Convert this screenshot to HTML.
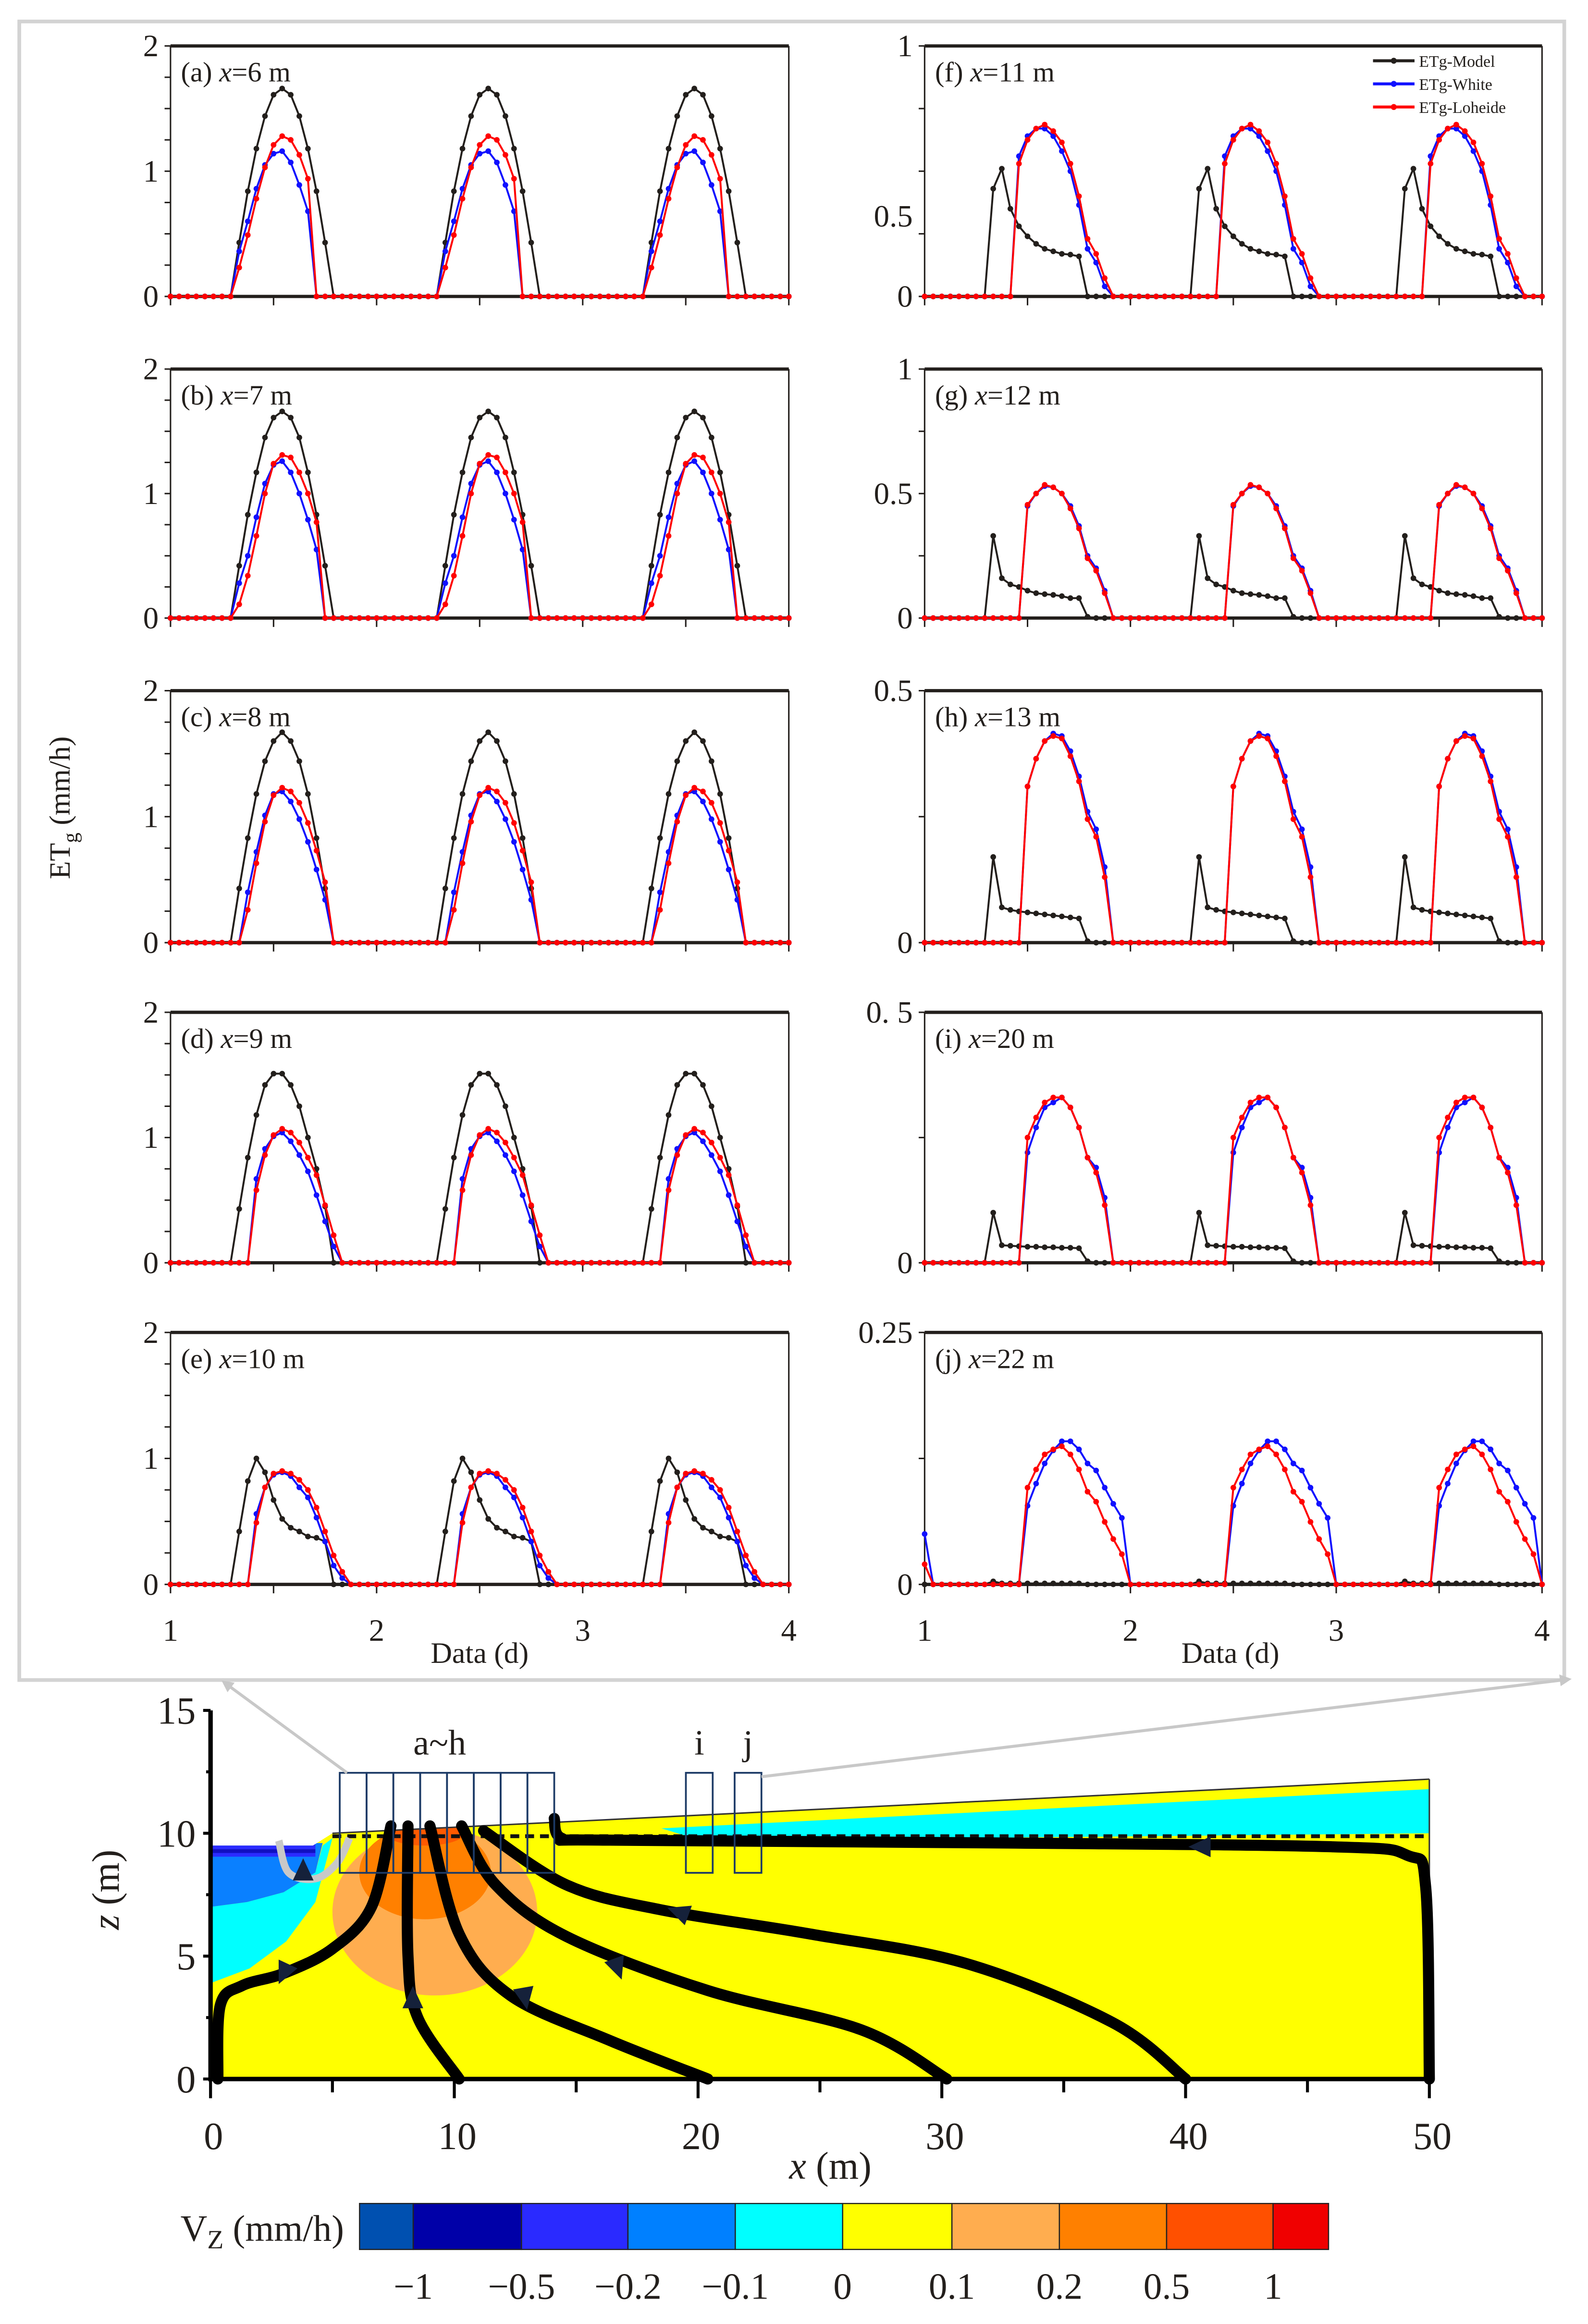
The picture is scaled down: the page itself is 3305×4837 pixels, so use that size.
<!DOCTYPE html>
<html><head><meta charset="utf-8"><style>
html,body{margin:0;padding:0;background:#fff;}
svg{display:block;}
text{font-family:"Liberation Serif",serif;fill:#231f1c;}
</style></head><body>
<svg id="fig" width="3305" height="4837" viewBox="0 0 1071 1568" preserveAspectRatio="none" xmlns="http://www.w3.org/2000/svg">
<rect x="13" y="14.5" width="1042" height="1119" fill="none" stroke="#d3d3d3" stroke-width="2.5"/>
<g id="charts"></g>
<g id="section"></g>
</svg>
<script>
// ---- hourly daily profiles (h0..h23), ETg in mm/h ----
const modelA=[0,0,0,0,0,0,0,0,0.43,0.84,1.18,1.44,1.61,1.66,1.61,1.44,1.18,0.84,0.43,0,0,0,0,0];
const whiteA=[0,0,0,0,0,0,0,0,0.36,0.60,0.86,1.05,1.14,1.16,1.07,0.89,0.68,0,0,0,0,0,0,0];
const loheideA=[0,0,0,0,0,0,0,0,0.23,0.49,0.78,1.03,1.21,1.28,1.25,1.13,0.94,0,0,0,0,0,0,0];
const modelB=[0,0,0,0,0,0,0,0,0.42,0.83,1.17,1.45,1.61,1.66,1.61,1.45,1.17,0.83,0.42,0,0,0,0,0];
const whiteB=[0,0,0,0,0,0,0,0,0.28,0.50,0.81,1.08,1.23,1.26,1.17,1.00,0.79,0.55,0,0,0,0,0,0];
const loheideB=[0,0,0,0,0,0,0,0,0.11,0.34,0.66,1.00,1.24,1.31,1.29,1.17,1.00,0.77,0,0,0,0,0,0];
const modelC=[0,0,0,0,0,0,0,0,0.43,0.83,1.18,1.44,1.60,1.67,1.60,1.44,1.18,0.83,0.43,0,0,0,0,0];
const whiteC=[0,0,0,0,0,0,0,0,0,0.40,0.72,1.01,1.18,1.20,1.12,0.98,0.80,0.58,0.34,0,0,0,0,0];
const loheideC=[0,0,0,0,0,0,0,0,0,0.26,0.63,0.96,1.17,1.23,1.20,1.11,0.95,0.73,0.48,0,0,0,0,0];
const modelD=[0,0,0,0,0,0,0,0,0.43,0.84,1.18,1.42,1.51,1.51,1.42,1.25,1.00,0.75,0.45,0,0,0,0,0];
const whiteD=[0,0,0,0,0,0,0,0,0,0,0.67,0.91,1.01,1.04,0.97,0.86,0.73,0.54,0.33,0.13,0,0,0,0];
const loheideD=[0,0,0,0,0,0,0,0,0,0,0.58,0.86,1.02,1.07,1.04,0.96,0.84,0.70,0.46,0.22,0,0,0,0];
const modelE=[0,0,0,0,0,0,0,0,0.42,0.82,1.00,0.89,0.67,0.52,0.45,0.42,0.38,0.37,0.34,0,0,0,0,0];
const whiteE=[0,0,0,0,0,0,0,0,0,0,0.56,0.77,0.87,0.89,0.86,0.77,0.69,0.53,0.34,0.15,0.05,0,0,0];
const loheideE=[0,0,0,0,0,0,0,0,0,0,0.49,0.77,0.88,0.90,0.88,0.83,0.75,0.61,0.42,0.23,0.10,0,0,0];
const modelF=[0,0,0,0,0,0,0,0,0.43,0.51,0.35,0.28,0.24,0.21,0.19,0.18,0.17,0.167,0.16,0,0,0,0,0];
const whiteF=[0,0,0,0,0,0,0,0,0,0,0,0.56,0.64,0.67,0.67,0.64,0.58,0.50,0.365,0.19,0.135,0.04,0,0];
const loheideF=[0,0,0,0,0,0,0,0,0,0,0,0.53,0.625,0.67,0.686,0.66,0.615,0.53,0.40,0.23,0.17,0.073,0,0];
const modelG=[0,0,0,0,0,0,0,0,0.33,0.16,0.135,0.125,0.11,0.10,0.096,0.093,0.088,0.08,0.08,0.005,0,0,0,0];
const whiteG=[0,0,0,0,0,0,0,0,0,0,0,0,0.45,0.50,0.53,0.525,0.50,0.45,0.37,0.25,0.20,0.11,0,0];
const loheideG=[0,0,0,0,0,0,0,0,0,0,0,0,0.455,0.50,0.535,0.525,0.50,0.44,0.36,0.24,0.19,0.10,0,0];
const modelH=[0,0,0,0,0,0,0,0,0.17,0.07,0.065,0.062,0.06,0.058,0.056,0.054,0.052,0.05,0.048,0.003,0,0,0,0];
const whiteH=[0,0,0,0,0,0,0,0,0,0,0,0,0.31,0.365,0.40,0.415,0.41,0.38,0.33,0.26,0.225,0.15,0,0];
const loheideH=[0,0,0,0,0,0,0,0,0,0,0,0,0.31,0.365,0.40,0.41,0.405,0.37,0.32,0.245,0.21,0.13,0,0];
const modelI=[0,0,0,0,0,0,0,0,0.10,0.035,0.034,0.033,0.032,0.032,0.031,0.031,0.030,0.030,0.029,0.003,0,0,0,0];
const whiteI=[0,0,0,0,0,0,0,0,0,0,0,0,0.22,0.27,0.31,0.32,0.33,0.31,0.27,0.21,0.19,0.13,0,0];
const loheideI=[0,0,0,0,0,0,0,0,0,0,0,0,0.25,0.29,0.32,0.33,0.33,0.31,0.27,0.21,0.18,0.115,0,0];
const modelJ=[0,0,0,0,0,0,0,0,0.003,0.001,0.001,0.001,0.001,0.001,0.001,0.001,0.001,0.001,0.001,0,0,0,0,0];
const whiteJ=[0,0,0,0,0,0,0,0,0,0,0,0,0.078,0.10,0.12,0.133,0.142,0.142,0.134,0.12,0.113,0.096,0.08,0.066];
const loheideJ=[0,0,0,0,0,0,0,0,0,0,0,0,0.096,0.114,0.129,0.134,0.137,0.129,0.114,0.092,0.082,0.062,0.045,0.030];
const startWhiteJ=0.05;
const startLoheideJ=0.02;
const panelLabels=["(a)","(b)","(c)","(d)","(e)","(f)","(g)","(h)","(i)","(j)"];
const panelX=["6","7","8","9","10","11","12","13","20","22"];
const yMaxes=[2,2,2,2,2,1,1,0.5,0.5,0.25];
const yTickLabelsLeft=["0","1","2"];
const xTickLabels=["1","2","3","4"];

const NS="http://www.w3.org/2000/svg";
function mk(tag,attrs,parent){const e=document.createElementNS(NS,tag);for(const k in attrs)e.setAttribute(k,attrs[k]);parent.appendChild(e);return e;}
const charts=document.getElementById('charts');
const rows=[[31,200],[249,417],[466,636],[683,852],[899,1069]];
const cols=[[115,532],[623.6,1040]];
const models=[modelA,modelB,modelC,modelD,modelE,modelF,modelG,modelH,modelI,modelJ];
const whites=[whiteA,whiteB,whiteC,whiteD,whiteE,whiteF,whiteG,whiteH,whiteI,whiteJ];
const lohs=[loheideA,loheideB,loheideC,loheideD,loheideE,loheideF,loheideG,loheideH,loheideI,loheideJ];
const yLabelSets=[yTickLabelsLeft,yTickLabelsLeft,yTickLabelsLeft,yTickLabelsLeft,yTickLabelsLeft,["0","0.5","1"],["0","0.5","1"],["0","0.5"],["0","0. 5"],["0","0.25"]];
const yLabelVals=[[0,1,2],[0,1,2],[0,1,2],[0,1,2],[0,1,2],[0,0.32,1],[0,0.5,1],[0,0.5],[0,0.5],[0,0.25]];
const minorSteps=[0.25,0.25,0.25,0.25,0.25,0.25,0.25,0.25,0.25,0.125];

function series(p,start){const out=[];for(let i=0;i<=72;i++){out.push(i===0&&start!=null?start:p[i%24]);}return out;}

for(let k=0;k<10;k++){
  const c=cols[k<5?0:1], r=rows[k%5];
  const g=mk('g',{},charts);
  
  
  const X=t=>c[0]+(t-1)/3*(c[1]-c[0]);
  const Y=v=>r[1]-v/yMaxes[k]*(r[1]-r[0]);
  const fr=mk('g',{},g);
  
  
  mk('line',{x1:c[0],y1:r[0],x2:c[1],y2:r[0],stroke:'#231f1c','stroke-width':2.2},fr);
  mk('line',{x1:c[0],y1:r[1],x2:c[1],y2:r[1],stroke:'#231f1c','stroke-width':2.2},fr);
  mk('line',{x1:c[0],y1:r[0],x2:c[0],y2:r[1],stroke:'#231f1c','stroke-width':1},fr);
  mk('line',{x1:c[1],y1:r[0],x2:c[1],y2:r[1],stroke:'#231f1c','stroke-width':1},fr);
  for(let v=0;v<=yMaxes[k]+1e-9;v+=minorSteps[k]){
    const t=mk('line',{x1:c[0]-4,y1:Y(v),x2:c[0],y2:Y(v),stroke:'#231f1c','stroke-width':1},g);
    
    
  }
  yLabelSets[k].forEach((s,i)=>{
    const t=mk('text',{x:c[0]-8,y:Y(yLabelVals[k][i])+7,'text-anchor':'end','font-size':21},g);
    t.textContent=s;
    
    
  });
  for(let t=1;t<=4.001;t+=0.5){
    const tk=mk('line',{x1:X(t),y1:r[1],x2:X(t),y2:r[1]+6,stroke:'#231f1c','stroke-width':1},g);
    
    
  }
  if(k%5===4){
    xTickLabels.forEach((s,i)=>{
      const t=mk('text',{x:X(i+1),y:r[1]+38,'text-anchor':'middle','font-size':21},g);
      t.textContent=s;
      
      
    });
    const xt=mk('text',{x:(c[0]+c[1])/2-(k<5?0:2),y:r[1]+53,'text-anchor':'middle','font-size':20},g);
    xt.textContent='Data (d)';
    
    
  }
  const pl=mk('text',{x:c[0]+7,y:r[0]+24,'font-size':19},g);
  pl.innerHTML=panelLabels[k]+' <tspan font-style="italic">x</tspan>='+panelX[k]+' m';
  
  
  const sets=[[models[k],null,'#231f1c','model'],[whites[k],k===9?startWhiteJ:null,'#1010ff','white'],[lohs[k],k===9?startLoheideJ:null,'#ff0000','loheide']];
  sets.forEach(([p,st,col,nm])=>{
    const vals=series(p,st);
    const sg=mk('g',{},g);
    
    
    let d='';
    vals.forEach((v,i)=>{d+=(i?'L':'M')+X(1+i/24).toFixed(2)+' '+Y(v).toFixed(2);});
    const ln=mk('path',{d:d,fill:'none',stroke:col,'stroke-width':1.3,'stroke-linejoin':'round'},sg);
    
    
    vals.forEach((v,i)=>{
      const m=mk('circle',{cx:X(1+i/24),cy:Y(v),r:1.9,fill:col},sg);
      
      
    });
  });
}
const yt=mk('text',{x:0,y:0,'text-anchor':'middle','font-size':20,transform:'translate(47,545) rotate(-90)'},charts);
yt.innerHTML='ET<tspan font-size="14" dy="5">g</tspan><tspan dy="-5"> (mm/h)</tspan>';


const legItems=[['ETg-Model','#231f1c'],['ETg-White','#1010ff'],['ETg-Loheide','#ff0000']];
const lg=mk('g',{},charts);


legItems.forEach(([s,col],i)=>{
  const y=41+i*15.6;
  const e=mk('g',{},lg);
  
  
  mk('line',{x1:926,y1:y,x2:954,y2:y,stroke:col,'stroke-width':2},e);
  mk('circle',{cx:940,cy:y,r:2,fill:col},e);
  const t=mk('text',{x:957,y:y+4,'font-size':11},e);
  t.textContent=s;
});

// ---------------- cross section ----------------
const sec=document.getElementById('section');
const MX=x=>142+x*16.44, MZ=z=>1402.7-z*16.58;
const P=pts=>pts.map(([x,z])=>MX(x).toFixed(1)+','+MZ(z).toFixed(1)).join(' ');
function smooth(pts){let d='M'+MX(pts[0][0])+' '+MZ(pts[0][1]);
  for(let i=0;i<pts.length-1;i++){const p0=pts[Math.max(0,i-1)],p1=pts[i],p2=pts[i+1],p3=pts[Math.min(pts.length-1,i+2)];
    const c1=[MX(p1[0])+(MX(p2[0])-MX(p0[0]))/6,MZ(p1[1])+(MZ(p2[1])-MZ(p0[1]))/6];
    const c2=[MX(p2[0])-(MX(p3[0])-MX(p1[0]))/6,MZ(p2[1])-(MZ(p3[1])-MZ(p1[1]))/6];
    d+=' C'+c1.join(' ')+' '+c2.join(' ')+' '+MX(p2[0])+' '+MZ(p2[1]);}
  return d;}
const domainPts=[[0,9.5],[4.2,9.5],[5,10],[50,12.2],[50,0],[0,0]];
const defs=mk('defs',{},sec);
const cp=mk('clipPath',{id:'dom'},defs);
mk('polygon',{points:P(domainPts)},cp);
const fld=mk('g',{'clip-path':'url(#dom)'},sec);


mk('polygon',{points:P(domainPts),fill:'#ffff00'},fld);
mk('polygon',{points:P([[0,7.0],[1.5,7.2],[3,7.6],[4.3,8.4],[4.6,9.5],[5,9.8],[4.3,7.2],[3.1,5.6],[1.6,4.5],[0,3.9]]),fill:'#00ffff'},fld);
mk('polygon',{points:P([[0,9.6],[4.6,9.6],[4.3,8.4],[3,7.6],[1.5,7.2],[0,7.0]]),fill:'#0a80ff'},fld);
mk('polygon',{points:P([[0,9.6],[4.3,9.6],[4.3,9.05],[0,9.05]]),fill:'#2b2bff'},fld);
mk('polygon',{points:P([[0,9.35],[4.3,9.35],[4.3,9.2],[0,9.2]]),fill:'#1010c0'},fld);
mk('polygon',{points:P([[18.5,10.2],[50,11.8],[50,10.0],[40,9.9],[25,9.75],[22,9.6],[19.5,9.9]]),fill:'#00ffff'},fld);
mk('ellipse',{cx:MX(9.2),cy:MZ(6.8),rx:4.2*16.44,ry:3.4*16.58,fill:'#ffad4f'},fld);
mk('ellipse',{cx:MX(8.8),cy:MZ(8.4),rx:2.7*16.44,ry:1.9*16.58,fill:'#ff8000'},fld);
mk('ellipse',{cx:MX(8.8),cy:MZ(10),rx:1.6*16.44,ry:0.5*16.58,fill:'#ff5a00'},fld);
mk('polyline',{points:P([[5,10],[50,12.2]]),fill:'none',stroke:'#333','stroke-width':1},sec);
mk('line',{x1:MX(50),y1:MZ(12.2),x2:MX(50),y2:MZ(0),stroke:'#333','stroke-width':1},sec);
const wt=mk('line',{x1:MX(5),y1:MZ(9.88),x2:MX(50),y2:MZ(9.88),stroke:'#111','stroke-width':2.6,'stroke-dasharray':'6 4'},sec);


const gp=mk('path',{d:smooth([[2.8,9.7],[3.2,8.4],[4.3,8.15],[5.2,8.8],[5.7,9.8]]),fill:'none',stroke:'#c8c8c8','stroke-width':5},sec);


const streams=[
 [[0.3,0],[0.4,3.0],[1.3,3.8],[3,4.3],[5,5.3],[6.6,7.0],[7.4,10.3]],
 [[10.2,0],[8.5,2.5],[8.1,5],[8.1,10.3]],
 [[20.4,0],[16.3,1.6],[12.3,3.4],[10.2,5.9],[9.0,10.3]],
 [[30.2,0],[26.7,2],[20.4,3.6],[14.6,5.8],[11.7,7.9],[10.3,10.3]],
 [[40,0],[37,2.3],[31,4.7],[24.6,5.9],[18.4,6.9],[14.6,7.9],[11.2,10.1]],
 [[50,0],[49.85,7.8],[49.1,9.1],[46,9.45],[33,9.6],[16.3,9.72],[14.4,9.8],[14.1,10.6]]
];
streams.forEach(s=>{
  const p=mk('path',{d:smooth(s),fill:'none',stroke:'#000','stroke-width':7.5,'stroke-linecap':'round'},sec);
  
  
});
const arrows=[[3.8,8.5,-90],[3,4.3,115],[8.3,3.3,-90],[12.9,3.3,80],[16.7,4.5,70],[19.2,6.8,200],[40.6,9.45,180]];
arrows.forEach(([x,z,a])=>{
  const t=mk('polygon',{points:'8,0 -7,-7 -7,7',fill:'#15213a',transform:'translate('+MX(x)+','+MZ(z)+') rotate('+a+')'},sec);
  
  
});
const boxEdges=[5.3,6.4,7.5,8.6,9.7,10.8,11.9,13.0,14.1];
for(let i=0;i<8;i++){
  const b=mk('rect',{x:MX(boxEdges[i]),y:MZ(12.46),width:MX(boxEdges[i+1])-MX(boxEdges[i]),height:MZ(8.39)-MZ(12.46),fill:'none',stroke:'#1c3a66','stroke-width':1.2},sec);
  
  
}
[[19.5,20.6,'i'],[21.5,22.6,'j']].forEach(([a,b,n])=>{
  const r=mk('rect',{x:MX(a),y:MZ(12.46),width:MX(b)-MX(a),height:MZ(8.39)-MZ(12.46),fill:'none',stroke:'#1c3a66','stroke-width':1.2},sec);
  
  
  const t=mk('text',{x:MX((a+b)/2),y:MZ(13.2),'text-anchor':'middle','font-size':24},sec);
  t.textContent=n;
  
  
});
const ah=mk('text',{x:MX(9.4),y:MZ(13.2),'text-anchor':'middle','font-size':24},sec);
ah.textContent='a~h';


mk('defs',{},sec).innerHTML='<marker id="gah" markerWidth="8" markerHeight="8" refX="6" refY="4" orient="auto" markerUnits="userSpaceOnUse"><path d="M0,0 L8,4 L0,8 z" fill="#c8c8c8"/></marker>';
const ga1=mk('line',{x1:MX(5.6),y1:MZ(12.46),x2:151,y2:1135,stroke:'#c8c8c8','stroke-width':2,'marker-end':'url(#gah)'},sec);


const ga2=mk('line',{x1:MX(22.6),y1:MZ(12.3),x2:1058,y2:1133,stroke:'#c8c8c8','stroke-width':2,'marker-end':'url(#gah)'},sec);


const ax=mk('g',{},sec);


mk('line',{x1:MX(0),y1:MZ(15),x2:MX(0),y2:MZ(0)+1.5,stroke:'#000','stroke-width':3},ax);
mk('line',{x1:MX(0)-1.5,y1:MZ(0),x2:MX(50)+1.5,y2:MZ(0),stroke:'#000','stroke-width':3},ax);
for(let z=0;z<=15;z+=2.5){mk('line',{x1:MX(0)-(z%5===0?5:3),y1:MZ(z),x2:MX(0),y2:MZ(z),stroke:'#000','stroke-width':2},ax);}
for(let z=0;z<=15;z+=5){const t=mk('text',{x:MX(0)-10,y:MZ(z)+9,'text-anchor':'end','font-size':26},ax);t.textContent=String(z);
  
  }
for(let x=0;x<=50;x+=5){mk('line',{x1:MX(x),y1:MZ(0),x2:MX(x),y2:MZ(0)+(x%10===0?13:9),stroke:'#000','stroke-width':2},ax);}
for(let x=0;x<=50;x+=10){const t=mk('text',{x:MX(x)+2,y:1450,'text-anchor':'middle','font-size':26},ax);t.textContent=String(x);
  
  }
const xm=mk('text',{x:560,y:1470,'text-anchor':'middle','font-size':26},ax);
xm.innerHTML='<tspan font-style="italic">x</tspan> (m)';


const zm=mk('text',{x:0,y:0,'text-anchor':'middle','font-size':26,transform:'translate(80,1275) rotate(-90)'},ax);
zm.innerHTML='<tspan font-style="italic">z</tspan> (m)';


const cbColors=['#0050b0','#0000a8','#2a2aff','#0080ff','#00ffff','#ffff00','#ffad4f','#ff8000','#ff5000','#f00000'];
const cbEdges=[242.5,278.7,351.7,423.5,495.9,568.3,642,714.5,786.8,858.6,896];
const cbLabels=['\u22121','\u22120.5','\u22120.2','\u22120.1','0','0.1','0.2','0.5','1'];
const cb=mk('g',{},sec);


cbColors.forEach((col,i)=>{const r=mk('rect',{x:cbEdges[i],y:1486.7,width:cbEdges[i+1]-cbEdges[i],height:31,fill:col,stroke:'#222','stroke-width':0.8},cb);
  
  });
cbLabels.forEach((s,i)=>{const t=mk('text',{x:cbEdges[i+1],y:1551,'text-anchor':'middle','font-size':25},cb);t.textContent=s;
  
  });
const cbt=mk('text',{x:232,y:1512,'text-anchor':'end','font-size':25},cb);
cbt.innerHTML='V<tspan font-size="18" dy="5">Z</tspan><tspan dy="-5"> (mm/h)</tspan>';


</script>
</body></html>
